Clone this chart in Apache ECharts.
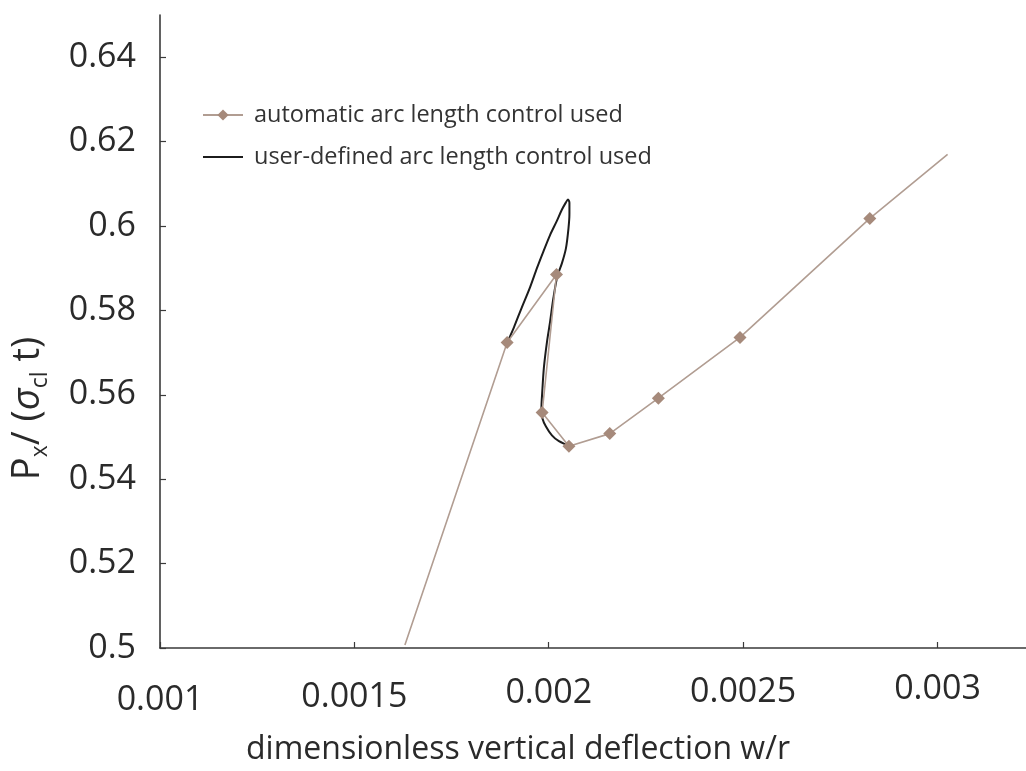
<!DOCTYPE html>
<html>
<head>
<meta charset="utf-8">
<script src="https://cdn.jsdelivr.net/npm/echarts@6/dist/echarts.min.js"></script>
<style>
  html, body { margin: 0; padding: 0; background: #ffffff; }
  #chart { width: 1026px; height: 771px; }
</style>
</head>
<body>
<div id="chart"></div>
<script>
// Load path with automatic arc length control (diamonds mark the converged steps)
const autoX = [0.001630, 0.001893, 0.002020, 0.001983, 0.002052, 0.002157, 0.002282, 0.002492, 0.002826, 0.003026];
const autoY = [0.5007, 0.5724, 0.5885, 0.5558, 0.5478, 0.5508, 0.5592, 0.5736, 0.6018, 0.6170];

// Load path with user-defined arc length control (finely resolved snap-back loop)
const userX = [0.0018933, 0.0019105, 0.0019285, 0.0019516, 0.0019696, 0.0019864, 0.0020031, 0.0020203,
               0.0020340, 0.0020442, 0.0020494, 0.0020532, 0.0020532, 0.0020507, 0.0020442, 0.0020340,
               0.0020224, 0.0020121, 0.0020031, 0.0019954, 0.0019877, 0.0019833, 0.0019812, 0.0019838,
               0.0019928, 0.0020082, 0.0020262, 0.0020494, 0.0020520];
const userY = [0.5724, 0.5760, 0.5802, 0.5854, 0.5900, 0.5940, 0.5978, 0.6011,
               0.6039, 0.6056, 0.6063, 0.6055, 0.6029, 0.5994, 0.5947, 0.5912,
               0.5882, 0.5830, 0.5771, 0.5725, 0.5666, 0.5607, 0.5567, 0.5544,
               0.5525, 0.5504, 0.5490, 0.5480, 0.5478];

const xTickLabels = ['0.001', '0.0015', '0.002', '0.0025', '0.003'];
const yTickLabels = ['0.5', '0.52', '0.54', '0.56', '0.58', '0.6', '0.62', '0.64'];
const seriesNames = ['automatic arc length control used', 'user-defined arc length control used'];

const FONT = 'Open Sans';
const INK = '#2a2a2a';
const AXIS = '#3a3a3a';

function tickRich(dropList) {
  const rich = {};
  dropList.forEach((d, i) => {
    rich['t' + i] = { fontSize: 34, fontFamily: FONT, color: INK, padding: [d, 0, 0, 0] };
  });
  return rich;
}

const chart = echarts.init(document.getElementById('chart'), null, { renderer: 'canvas' });

chart.setOption({
  animation: false,
  backgroundColor: '#ffffff',
  grid: { left: 160, right: 0, top: 15, bottom: 117, containLabel: false },
  legend: {
    data: [
      { name: seriesNames[0] },
      { name: seriesNames[1], itemStyle: { opacity: 0 } }
    ],
    orient: 'vertical',
    left: 197,
    top: 98,
    itemWidth: 40,
    itemHeight: 14,
    itemGap: 18,
    selectedMode: false,
    textStyle: { fontSize: 23.5, fontFamily: FONT, color: '#333333', padding: [0, 0, 0, 6] }
  },
  xAxis: {
    type: 'value',
    min: 0.001,
    max: 0.0032277,
    interval: 0.0005,
    axisLine: { show: true, onZero: false, lineStyle: { color: AXIS, width: 1.6 } },
    axisTick: { show: true, inside: true, length: 6, lineStyle: { color: AXIS, width: 1.2 } },
    splitLine: { show: false },
    axisLabel: {
      margin: 24,
      showMaxLabel: false,
      formatter: (v, i) => (i < xTickLabels.length ? '{t' + i + '|' + xTickLabels[i] + '}' : ''),
      rich: tickRich([11, 8, 4, 3, 0])
    },
    name: 'dimensionless vertical deflection w/r',
    nameLocation: 'middle',
    nameGap: 86,
    nameTextStyle: { fontSize: 32, fontFamily: FONT, color: INK, padding: [0, 150, 0, 0] }
  },
  yAxis: {
    type: 'value',
    min: 0.5,
    max: 0.65,
    interval: 0.02,
    axisLine: { show: true, onZero: false, lineStyle: { color: AXIS, width: 1.6 } },
    axisTick: { show: true, inside: true, length: 6, lineStyle: { color: AXIS, width: 1.2 } },
    splitLine: { show: false },
    axisLabel: {
      margin: 24,
      showMaxLabel: false,
      fontSize: 34,
      fontFamily: FONT,
      color: INK,
      formatter: (v, i) => (i < yTickLabels.length ? yTickLabels[i] : '')
    },
    name: '{m|P}{s|x}{m|/ (}{g|σ}{s|cl}{m| t)}',
    nameLocation: 'middle',
    nameRotate: 90,
    nameGap: 108,
    nameTextStyle: {
      padding: [0, 154, 0, 0],
      rich: {
        m: { fontSize: 38, fontFamily: FONT, color: INK, lineHeight: 48 },
        g: { fontSize: 38, fontFamily: FONT, color: INK, fontStyle: 'italic', lineHeight: 48 },
        s: { fontSize: 23, fontFamily: FONT, color: INK, lineHeight: 14, verticalAlign: 'bottom' }
      }
    }
  },
  series: [
    {
      name: seriesNames[1],
      type: 'line',
      data: userX.map((x, i) => [x, userY[i]]),
      symbol: 'none',
      smooth: 0.3,
      lineStyle: { color: '#1c1c1c', width: 2 },
      itemStyle: { color: '#1c1c1c' },
      z: 2
    },
    {
      name: seriesNames[0],
      type: 'line',
      data: autoX.map((x, i) => ({
        value: [x, autoY[i]],
        symbol: (i === 0 || i === autoX.length - 1) ? 'none' : 'diamond'
      })),
      symbol: 'diamond',
      symbolSize: 13,
      showSymbol: true,
      lineStyle: { color: '#b19d92', width: 1.6 },
      itemStyle: { color: '#a68a7b' },
      z: 3
    }
  ]
});
</script>
</body>
</html>
